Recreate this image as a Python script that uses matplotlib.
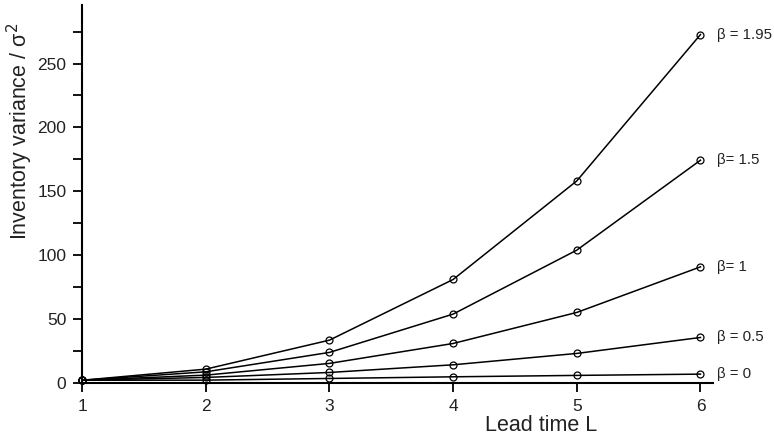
import matplotlib
matplotlib.use("Agg")
import matplotlib.pyplot as plt
from matplotlib.ticker import MultipleLocator

plt.rcParams['font.family'] = ['Liberation Sans', 'DejaVu Sans']

lead_time = [1, 2, 3, 4, 5, 6]
beta_labels = ["β = 0", "β = 0.5", "β= 1", "β= 1.5", "β = 1.95"]
var_b0 = [2, 2.1, 3.4, 4.7, 5.8, 6.8]
var_b05 = [2, 4.2, 8.1, 14.1, 23.0, 35.5]
var_b1 = [2, 6.0, 15.2, 30.8, 55.1, 90.8]
var_b15 = [2, 8.6, 23.8, 53.8, 103.9, 174.3]
var_b195 = [2, 10.7, 33.4, 80.9, 158.1, 272.7]
series = [var_b0, var_b05, var_b1, var_b15, var_b195]

fig = plt.figure(figsize=(7.74, 4.36), dpi=100)
ax = fig.add_axes([0.106, 0.122, 0.815, 0.867])

for vals, lab in zip(series, beta_labels):
    ax.plot(lead_time, vals, color='black', lw=1.1, marker='o', ms=5,
            mfc='none', mec='black', mew=0.9, clip_on=False)
    ax.text(lead_time[-1] + 0.135, vals[-1], lab, fontsize=10.8,
            va='center', ha='left', color='#222222')

ax.set_xlim(1, 6.1)
ax.set_ylim(0, 296)
ax.set_xticks(lead_time)
ax.yaxis.set_major_locator(MultipleLocator(50))
ax.yaxis.set_minor_locator(MultipleLocator(25))

for s in ['top', 'right']:
    ax.spines[s].set_visible(False)
for s in ['left', 'bottom']:
    ax.spines[s].set_linewidth(1.5)

ax.tick_params(which='both', direction='out', length=6.3, width=1.3, pad=5,
               labelsize=12.5, colors='black', labelcolor='#222222')

ax.set_xlabel("Lead time L", fontsize=15.5, color='#222222')
ax.xaxis.set_label_coords(0.727, -0.085)
ax.set_ylabel("Inventory variance / σ$^2$", fontsize=15.5, color='#222222')
ax.yaxis.set_label_coords(-0.075, 0.665)

fig.savefig("out.png", dpi=100)
